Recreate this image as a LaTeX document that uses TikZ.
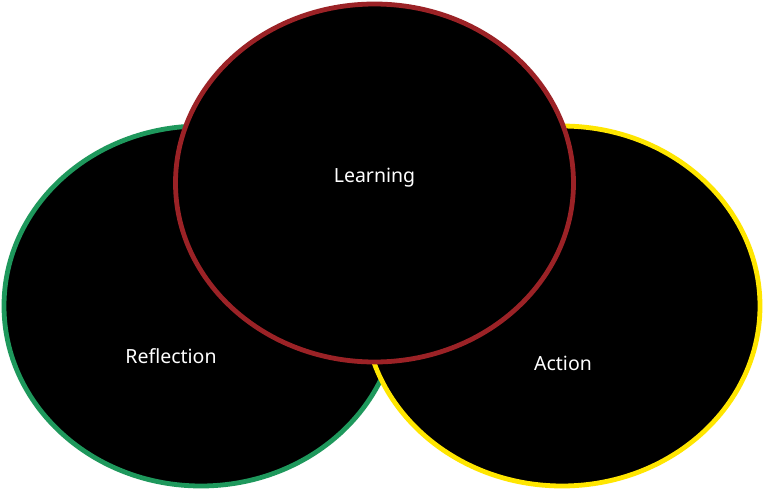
\documentclass[tikz,border=0pt]{standalone}
\usepackage{fontspec}
\setmainfont{Noto Sans}
\definecolor{ringgreen}{RGB}{30,152,92}
\definecolor{ringyellow}{RGB}{255,230,0}
\definecolor{ringred}{RGB}{155,34,38}
\begin{document}
\begin{tikzpicture}[x=1pt,y=-1pt,
  ring/.style={fill=black,line width=4.8pt},
  caption/.style={text=white,font=\fontsize{19.5}{22}\selectfont,inner sep=0pt}]
\useasboundingbox[fill=white] (0,0) rectangle (766,490);
% three overlapping rings, drawn back to front
\draw[ring,draw=ringgreen] (201,306) ellipse [x radius=197,y radius=180];
\draw[ring,draw=ringyellow] (562,306) ellipse [x radius=198,y radius=180];
\draw[ring,draw=ringred] (374.5,183) ellipse [x radius=199,y radius=179];
% labels
\node[caption] (learning) at (374.5,178) {Learning};
\node[caption] (reflection) at (171,356) {Reflection};
\node[caption] (action) at (563,363) {Action};
\end{tikzpicture}
\end{document}
